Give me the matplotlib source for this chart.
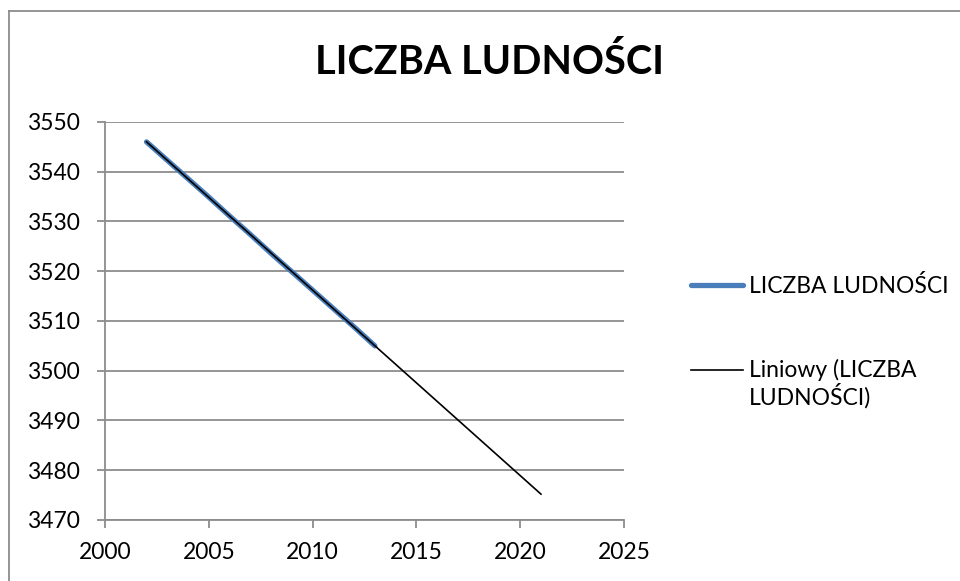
import numpy as np
import matplotlib
matplotlib.use("Agg")
import matplotlib.pyplot as plt
from matplotlib.lines import Line2D
from matplotlib.legend_handler import HandlerLine2D

# dane
lata = [2002, 2003, 2004, 2005, 2006, 2007, 2008, 2009, 2010, 2011, 2012, 2013]
ludnosc = [3546, 3542.3, 3538.6, 3534.9, 3531.1, 3527.4, 3523.6, 3519.9, 3516.2, 3512.5, 3508.8, 3505]
lata_trend_koniec = 2021
tytul = "LICZBA LUDNOŚCI"
etykieta_serii = "LICZBA LUDNOŚCI"
etykieta_trendu = "Liniowy (LICZBA\nLUDNOŚCI)"

plt.rcParams['font.family'] = ['Lato', 'DejaVu Sans']


class HandlerPierwszaLinia(HandlerLine2D):
    """Uchwyt legendy na wysokosci pierwszej linii tekstu (jak w Excelu)."""
    def __init__(self, przesuniecie=10, **kw):
        super().__init__(**kw)
        self.przesuniecie = przesuniecie

    def create_artists(self, legend, orig_handle, xdescent, ydescent, width, height,
                       fontsize, trans):
        return super().create_artists(legend, orig_handle, xdescent,
                                      ydescent - 2 * self.przesuniecie,
                                      width, height, fontsize, trans)


# linia trendu (regresja liniowa)
a, b = np.polyfit(lata, ludnosc, 1)
trend_x = np.array([lata[0], lata_trend_koniec])
trend_y = a * trend_x + b

fig = plt.figure(figsize=(9.6, 5.81), dpi=100)
# ramka wykresu - widoczna tylko gora i lewa strona
ramka_kolor = '#8c8c8c'
fig.lines.append(Line2D([9 / 960, 1], [1 - 11 / 581, 1 - 11 / 581], transform=fig.transFigure,
                        color=ramka_kolor, linewidth=1.3))
fig.lines.append(Line2D([9 / 960, 9 / 960], [0, 1 - 11 / 581], transform=fig.transFigure,
                        color=ramka_kolor, linewidth=1.3))

ax = fig.add_axes([105 / 960, 1 - 520 / 581, (624 - 105) / 960, (520 - 122) / 581])

seria, = ax.plot(lata, ludnosc, color='#4A7EBB', linewidth=3.8, solid_capstyle='round',
                 label=etykieta_serii)
trend, = ax.plot(trend_x, trend_y, color='black', linewidth=1.2, label=etykieta_trendu)

ax.set_xlim(2000, 2025)
ax.set_ylim(3470, 3550)
ax.set_xticks(range(2000, 2026, 5))
ax.set_yticks(range(3470, 3551, 10))
ax.grid(axis='y', color=ramka_kolor, linewidth=1.3)
ax.set_axisbelow(True)
for s in ['top', 'right']:
    ax.spines[s].set_visible(False)
for s in ['left', 'bottom']:
    ax.spines[s].set_color(ramka_kolor)
    ax.spines[s].set_linewidth(1.3)
ax.tick_params(direction='out', length=6, width=1.3, color=ramka_kolor, labelsize=16.5)
ax.tick_params(axis='y', pad=12)
ax.tick_params(axis='x', pad=10)

fig.text(490 / 960, 1 - 62 / 581, tytul, ha='center', va='center',
         fontsize=28.5, fontweight='bold')

leg = ax.legend(loc='upper left', bbox_to_anchor=(670 / 960, 1 - 254 / 581),
                bbox_transform=fig.transFigure, frameon=False, fontsize=16.5,
                handlelength=2.3, handletextpad=0.25, labelspacing=2.7,
                handler_map={trend: HandlerPierwszaLinia(przesuniecie=10)})
for t in leg.get_texts():
    t.set_linespacing(1.1)

fig.savefig("out.png", dpi=100)
